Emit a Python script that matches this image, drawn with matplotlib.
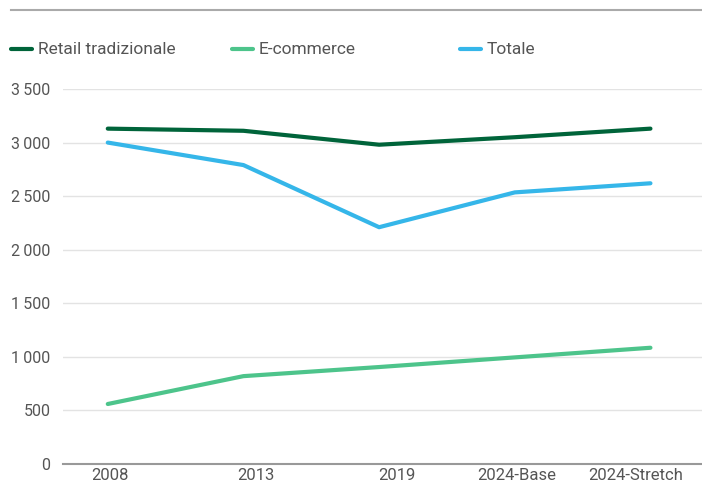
import matplotlib
matplotlib.use("Agg")
import matplotlib.pyplot as plt
import matplotlib.transforms as mtransforms
from matplotlib.ticker import FuncFormatter, MultipleLocator
from matplotlib.lines import Line2D

categories = ["2008", "2013", "2019", "2024-Base", "2024-Stretch"]
retail = [3130, 3110, 2980, 3050, 3130]
ecommerce = [560, 820, 905, 995, 1085]
totale = [3000, 2790, 2210, 2535, 2620]

c_retail = "#00643A"
c_ecom = "#4DC48B"
c_tot = "#35B6E9"
txt = "#555555"

fig = plt.figure(figsize=(7.02, 4.83), dpi=100)
W, H = 702, 483
ax = fig.add_axes([63 / W, 19 / H, (702 - 63) / W, (464 - 89) / H])

x = list(range(len(categories)))
ax.plot(x, retail, color=c_retail, lw=3, solid_capstyle="round", zorder=3)
ax.plot(x, ecommerce, color=c_ecom, lw=3, solid_capstyle="round", zorder=3)
ax.plot(x, totale, color=c_tot, lw=3, solid_capstyle="round", zorder=3)

ax.set_xlim(-0.33, 4.38)
ax.set_ylim(0, 3500)
ax.yaxis.set_major_locator(MultipleLocator(500))
ax.yaxis.set_major_formatter(FuncFormatter(lambda v, p: f"{int(v):,}".replace(",", "\u2009")))
ax.set_xticks(x)
ax.set_xticklabels([])
ax.grid(axis="y", color="#E3E3E3", lw=1)
ax.set_axisbelow(True)
for s in ["top", "right", "left"]:
    ax.spines[s].set_visible(False)
ax.spines["bottom"].set_color("#999999")
ax.spines["bottom"].set_linewidth(1.5)
ax.tick_params(axis="both", length=0, colors=txt)
for lab in ax.get_yticklabels():
    lab.set_fontfamily("Roboto")
    lab.set_fontsize(11.5)
ax.tick_params(axis="y", pad=9)

# category labels (slightly shifted as in the reference)
offsets = [2.5, 12, 18, 2, -15]
base = mtransforms.blended_transform_factory(ax.transData, ax.transAxes)
for xi, lab, off in zip(x, categories, offsets):
    tr = base + mtransforms.ScaledTranslation(off / 100, -4 / 100, fig.dpi_scale_trans)
    ax.text(xi, 0, lab, transform=tr, ha="center", va="top", color=txt,
            fontsize=12, family="Roboto", clip_on=False)

# top rule
fig.add_artist(Line2D([11 / W, 1.0], [1 - 10 / H, 1 - 10 / H], color="#AAAAAA", lw=1.5))

# legend
ly = 1 - 49 / H
items = [("Retail tradizionale", c_retail, 11), ("E-commerce", c_ecom, 232), ("Totale", c_tot, 460)]
for name, col, px in items:
    fig.add_artist(Line2D([px / W, (px + 21) / W], [ly, ly], color=col, lw=3, solid_capstyle="round"))
    fig.text((px + 27) / W, ly, name, color=txt, fontsize=12.5, va="center", family="Roboto")

fig.savefig("out.png", dpi=100)
